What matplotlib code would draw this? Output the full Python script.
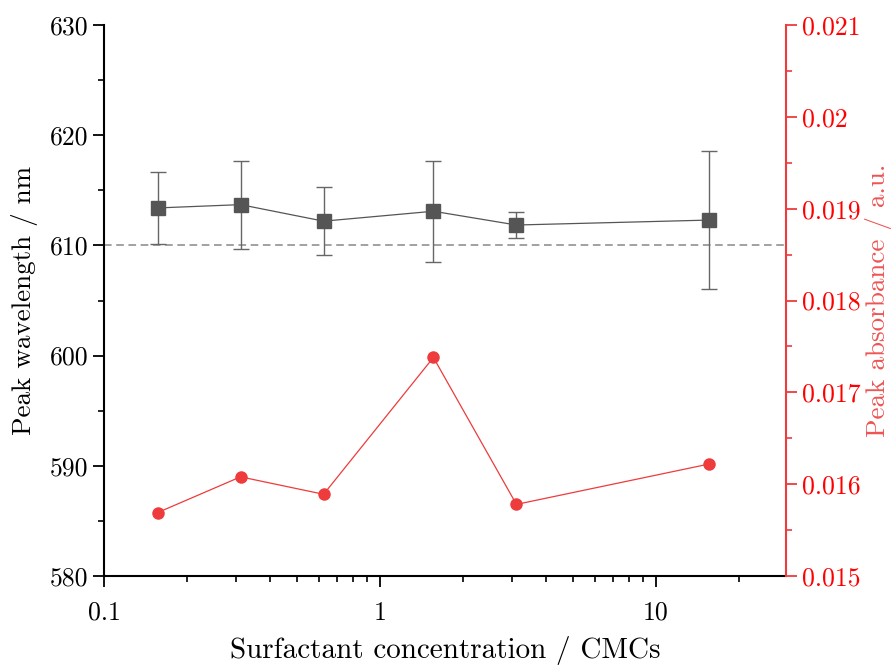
import matplotlib
matplotlib.use("Agg")
import matplotlib.pyplot as plt
import numpy as np
from matplotlib.ticker import MultipleLocator, LogLocator, FixedLocator, FuncFormatter

plt.rcParams['font.family'] = 'cmr10'
plt.rcParams['axes.formatter.use_mathtext'] = True

# Surfactant concentration in multiples of the CMC
conc = [0.15625, 0.3125, 0.625, 1.5625, 3.125, 15.625]

# Peak wavelength (nm) with error bars
wavelength = [613.4, 613.7, 612.2, 613.1, 611.85, 612.3]
wavelength_err = [3.25, 4.0, 3.1, 4.6, 1.2, 6.3]

# Peak absorbance (a.u.)
absorbance = [0.01569, 0.01608, 0.01589, 0.01738, 0.01578, 0.01622]

red = '#ee3b3b'

fig = plt.figure(figsize=(8.93, 6.65), dpi=100)
ax = fig.add_axes([0.1165, 0.1338, 0.7635, 0.8286])
ax2 = ax.twinx()

# reference line at 610 nm
ax.axhline(610, color='#888888', linestyle=(0, (5, 3)), linewidth=1.1, zorder=1)

ax.errorbar(conc, wavelength, yerr=wavelength_err, color='#555555', ecolor='#666666',
            marker='s', markersize=10, linewidth=0.9, elinewidth=1.0,
            capsize=6, capthick=1.0, zorder=3)

ax2.plot(conc, absorbance, color=red, marker='o', markersize=9, linewidth=0.9,
         markeredgewidth=0)

ax.set_xscale('log')
ax.set_xlim(0.1, 29.6)
ax.set_ylim(580, 630)
ax2.set_ylim(0.015, 0.021)

ax.xaxis.set_major_locator(FixedLocator([0.1, 1, 10]))
ax.xaxis.set_major_formatter(FuncFormatter(lambda v, p: f'{v:g}'))
ax.xaxis.set_minor_locator(LogLocator(base=10, subs=np.arange(2, 10)))
ax.xaxis.set_minor_formatter(FuncFormatter(lambda v, p: ''))

ax.yaxis.set_major_locator(MultipleLocator(10))
ax.yaxis.set_minor_locator(MultipleLocator(5))
ax.yaxis.set_major_formatter(FuncFormatter(lambda v, p: f'{v:.0f}'))

ax2.yaxis.set_major_locator(MultipleLocator(0.001))
ax2.yaxis.set_minor_locator(MultipleLocator(0.0005))
ax2.yaxis.set_major_formatter(FuncFormatter(lambda v, p: f'{round(v, 4):g}'))

for a in (ax, ax2):
    a.spines['top'].set_visible(False)
ax.spines['right'].set_visible(False)
ax2.spines['left'].set_visible(False)
ax2.spines['bottom'].set_visible(False)
ax.spines['left'].set_linewidth(1.5)
ax.spines['bottom'].set_linewidth(1.5)
ax2.spines['right'].set_color(red)
ax2.spines['right'].set_linewidth(1.5)

ax.tick_params(axis='both', which='major', direction='out', length=8, width=1.3,
               labelsize=18.5, colors='black')
ax.tick_params(axis='both', which='minor', direction='out', length=4, width=1.2)
ax.tick_params(axis='x', which='major', pad=10)
ax2.tick_params(axis='y', which='major', direction='out', length=8, width=1.3,
                labelsize=18.5, colors=red, labelcolor='red')
ax2.tick_params(axis='y', which='minor', direction='out', length=4, width=1.2, colors=red)

ax.set_xlabel('Surfactant concentration / CMCs', fontsize=21, labelpad=8)
ax.set_ylabel('Peak wavelength / nm', fontsize=19.5, labelpad=8)
ax2.set_ylabel('Peak absorbance / a.u.', fontsize=19.5, color='#ee5555', labelpad=3)

fig.savefig('out.png', dpi=100)
